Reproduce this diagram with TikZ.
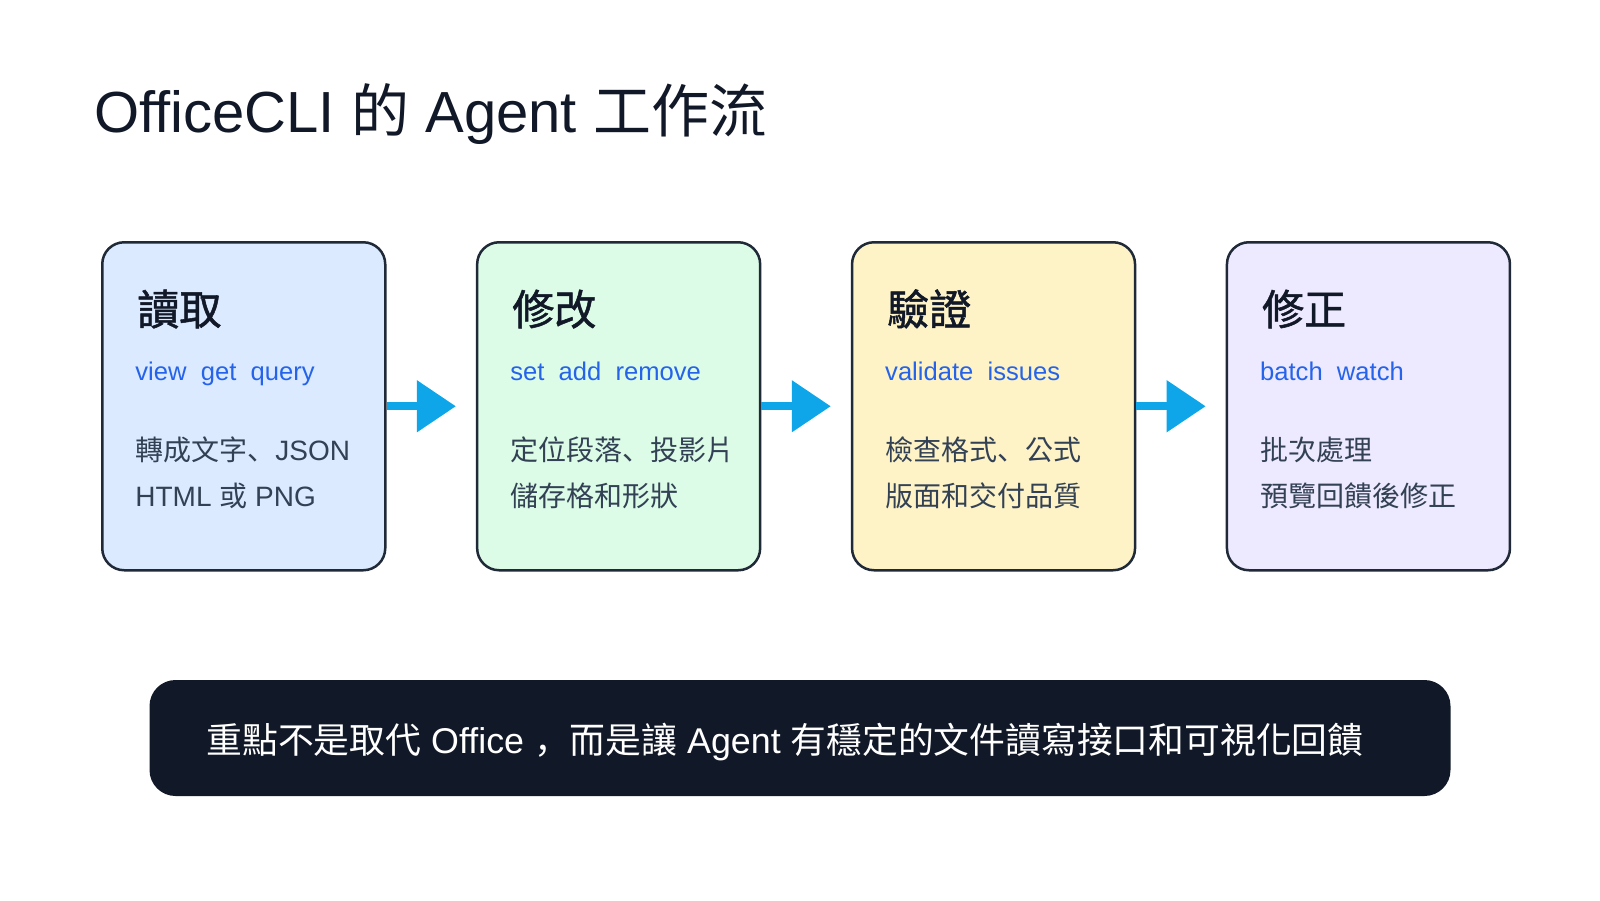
\documentclass[tikz,border=0pt]{standalone}
\usepackage{fontspec}
\setmainfont{Liberation Sans}
\newfontfamily\cjk{Noto Sans CJK TC}
\newfontfamily\cjkhead[FakeBold=1.2]{Noto Sans CJK TC}
\newfontfamily\cjkpunct{Noto Sans CJK SC}
\newcommand\zh[1]{{\cjk #1}}
\newcommand\pu[1]{{\cjkpunct #1}}
\usetikzlibrary{arrows.meta, calc, positioning}

\definecolor{ink}{HTML}{111827}
\definecolor{edge}{HTML}{1F2937}
\definecolor{cmdblue}{HTML}{2563EB}
\definecolor{slate}{HTML}{334155}
\definecolor{sky}{HTML}{0EA5E9}
\definecolor{readfill}{HTML}{DBEAFE}
\definecolor{editfill}{HTML}{DCFCE7}
\definecolor{checkfill}{HTML}{FEF3C7}
\definecolor{fixfill}{HTML}{EDE9FE}

\begin{document}
\begin{tikzpicture}[x=0.5pt, y=-0.5pt,
	card/.style={draw=edge, line width=1.25pt, rounded corners=11pt,
		minimum width=141.5pt, minimum height=164pt, inner sep=0pt},
	head/.style={anchor=base west, inner sep=0pt, text=ink,
		font=\fontsize{21}{25}\selectfont\cjkhead},
	cmd/.style={anchor=base west, inner sep=0pt, text=cmdblue,
		font=\fontsize{12.8}{16}\selectfont},
	note/.style={anchor=base west, inner sep=0pt, text=slate,
		font=\fontsize{14}{17}\selectfont},
	flow/.style={draw=sky, line width=4pt,
		-{Triangle[length=19.5pt, width=25pt]}, shorten >=10pt}]
	
	\useasboundingbox (0,0) rectangle (1600,900);
	
	% title
	\node[anchor=base west, inner sep=0pt, text=ink, font=\fontsize{29}{34}\selectfont]
		(title) at (94,132) {OfficeCLI \zh{的} Agent \zh{工作流}};
	
	% the four steps
	\node[card, fill=readfill, anchor=north west] (read) at (101,241) {};
	\node[card, fill=editfill, right=44.7pt of read] (edit) {};
	\node[card, fill=checkfill, right=44.7pt of edit] (check) {};
	\node[card, fill=fixfill, right=44.7pt of check] (fix) {};
	
	\node[head] (readhead) at ($(read.north west)+(36,84)$) {讀取};
	\node[cmd]  (readcmd)  at ($(read.north west)+(34,139)$) {view~ get~ query};
	\node[note] (readnote) at ($(read.north west)+(34,219)$) {\zh{轉成文字}\pu{、}JSON};
	\node[note] (readnoteb) at ($(read.north west)+(34,265)$) {HTML \zh{或} PNG};
	
	\node[head] (edithead) at ($(edit.north west)+(36,84)$) {修改};
	\node[cmd]  (editcmd)  at ($(edit.north west)+(34,139)$) {set~ add~ remove};
	\node[note] (editnote) at ($(edit.north west)+(34,219)$) {\zh{定位段落}\pu{、}\zh{投影片}};
	\node[note] (editnoteb) at ($(edit.north west)+(34,265)$) {\zh{儲存格和形狀}};
	
	\node[head] (checkhead) at ($(check.north west)+(36,84)$) {驗證};
	\node[cmd]  (checkcmd)  at ($(check.north west)+(34,139)$) {validate~ issues};
	\node[note] (checknote) at ($(check.north west)+(34,219)$) {\zh{檢查格式}\pu{、}\zh{公式}};
	\node[note] (checknoteb) at ($(check.north west)+(34,265)$) {\zh{版面和交付品質}};
	
	\node[head] (fixhead) at ($(fix.north west)+(36,84)$) {修正};
	\node[cmd]  (fixcmd)  at ($(fix.north west)+(34,139)$) {batch~ watch};
	\node[note] (fixnote) at ($(fix.north west)+(34,219)$) {\zh{批次處理}};
	\node[note] (fixnoteb) at ($(fix.north west)+(34,265)$) {\zh{預覽回饋後修正}};
	
	\foreach \a/\b in {read/edit, edit/check, check/fix}
		\draw[flow] (\a) -- (\b);
	
	% summary bar
	\node[fill=ink, rounded corners=13pt, minimum width=650.5pt, minimum height=58pt,
		inner sep=0pt] (summary) at (800,738) {};
	\node[anchor=base west, inner sep=0pt, text=white, font=\fontsize{17.9}{21}\selectfont]
		(summarytext) at ($(summary.west)+(57,15)$)
		{\zh{重點不是取代} Office \pu{，}\zh{而是讓} Agent \zh{有穩定的文件讀寫接口和可視化回饋}};
	
\end{tikzpicture}
\end{document}
